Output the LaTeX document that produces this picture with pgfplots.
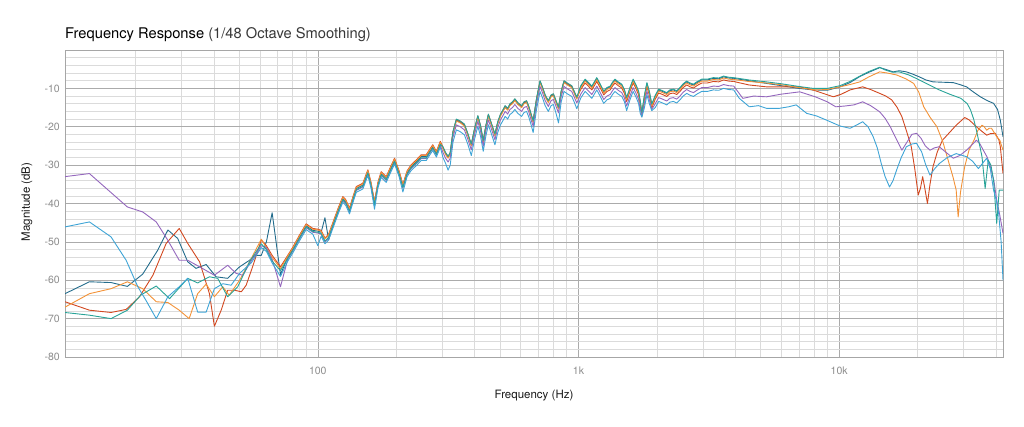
\documentclass[border=0pt]{standalone}
\usepackage{fontspec}
\setmainfont{TeX Gyre Heros}
\usepackage{pgfplots}
\usepackage{pgfplotstable}
\pgfplotsset{compat=1.18}
\definecolor{cdb}{RGB}{35,108,140}
\definecolor{cte}{RGB}{40,163,152}
\definecolor{cor}{RGB}{243,146,55}
\definecolor{cre}{RGB}{210,72,32}
\definecolor{cpu}{RGB}{148,103,189}
\definecolor{clb}{RGB}{62,164,214}
\pgfplotstableread{
f db te or re pu lb
76.7 -54 -54.3 -53.7 -53.5 -54.5 -55
80 -52 -52.3 -51.7 -51.5 -52.5 -53
85.1 -48.7 -49 -48.4 -48.2 -49.2 -49.7
90.2 -45.8 -46.1 -45.5 -45.3 -46.3 -46.8
95.7 -47 -47.3 -46.7 -46.5 -47.5 -48
100 -47.2 -47.5 -46.9 -46.7 -47.7 -51
103 -47.5 -47.8 -47.2 -47 -48 -48.5
106.5 -43.7 -49.8 -49.2 -49 -50 -50.5
110 -49.5 -48.8 -48.2 -48 -49 -49.5
115.9 -44.3 -44.6 -44 -43.8 -44.8 -45.3
120 -41.5 -41.8 -41.2 -41 -42 -42.5
124.7 -38.7 -39 -38.4 -38.2 -39.2 -39.7
128 -39.5 -39.8 -39.2 -39 -40 -40.5
132.3 -41.7 -42 -41.4 -41.2 -42.2 -42.7
136 -39 -39.3 -38.7 -38.5 -39.5 -40
140.4 -36.1 -36.4 -35.8 -35.6 -36.6 -37.1
148.9 -35.2 -35.5 -34.9 -34.7 -35.7 -36.2
155.6 -31.7 -32 -31.4 -31.2 -32.2 -32.7
160 -35 -35.3 -34.7 -34.5 -35.5 -36
165 -40 -40.3 -39.7 -39.5 -40.5 -41.5
170 -35 -35.3 -34.7 -34.5 -35.5 -36
175 -32.2 -32.5 -31.9 -31.7 -32.7 -33.2
183 -33.5 -33.8 -33.2 -33 -34 -34.5
190 -31 -31.3 -30.7 -30.5 -31.5 -32
197 -28.7 -29 -28.4 -28.2 -29.2 -29.7
205 -32 -32.3 -31.7 -31.5 -32.5 -33
212 -35.5 -35.8 -35.2 -35 -36 -37
220 -32 -32.3 -31.7 -31.5 -32.5 -33
228 -30.4 -30.7 -30.1 -29.9 -30.9 -31.4
239 -29.1 -29.4 -28.8 -28.6 -29.6 -30.1
249 -27.8 -28.1 -27.5 -27.3 -28.3 -28.8
260.5 -27.8 -28.1 -27.5 -27.3 -28.3 -28.8
268 -26.5 -26.8 -26.2 -26 -27 -27.5
276 -25.2 -25.5 -24.9 -24.7 -25.7 -26.2
285 -26.9 -27.2 -26.6 -26.4 -27.4 -27.9
295 -24.3 -24.6 -24 -23.8 -24.8 -25.3
302 -25.5 -25.2 -25.7 -25.3 -26.7 -28
309 -27 -26.7 -27.2 -26.8 -28.2 -29.5
316 -28 -27.7 -28.2 -27.8 -29.2 -31.3
322 -27 -26.7 -27.2 -26.8 -28.2 -30
330 -21.5 -21.2 -21.7 -21.3 -22.7 -24
340 -18.3 -18 -18.5 -18.1 -19.5 -20.8
352 -18.8 -18.5 -19 -18.6 -20 -21.3
365 -19.6 -19.3 -19.8 -19.4 -20.8 -22.1
376 -22 -21.7 -22.2 -21.8 -23.2 -24.5
388 -24.8 -24.5 -25 -24.6 -26 -27.5
400 -20.5 -20.2 -20.7 -20.3 -21.7 -23
411 -17.4 -17.1 -17.6 -17.2 -18.6 -19.9
421 -20 -19.7 -20.2 -19.8 -21.2 -22.5
431 -23.9 -23.6 -24.1 -23.7 -25.1 -26.4
441 -20 -19.7 -20.2 -19.8 -21.2 -22.5
451 -17 -16.7 -17.2 -16.8 -18.2 -19.5
464 -19.5 -19.2 -19.7 -19.3 -20.7 -22
478 -22.2 -21.9 -22.4 -22 -23.4 -24.7
490 -19 -18.7 -19.2 -18.8 -20.2 -21.5
502 -17 -16.7 -17.2 -16.8 -18.2 -19.5
512 -16 -15.7 -16.2 -15.8 -17.2 -18.5
523 -14.8 -14.5 -15 -14.6 -16 -17.3
535 -15.5 -15.2 -15.7 -15.3 -16.7 -18
546 -14.3 -14 -14.5 -14.1 -15.5 -16.8
558 -13.8 -13.5 -14 -13.6 -15 -16.3
570 -13 -12.7 -13.2 -12.8 -14.2 -15.5
585 -14 -13.7 -14.2 -13.8 -15.2 -16.5
605 -14.8 -14.5 -15 -14.6 -16 -17.3
618 -13.8 -13.5 -14 -13.6 -15 -16.3
632 -13.5 -13.2 -13.7 -13.3 -14.7 -16
645 -15 -14.7 -15.2 -14.8 -16.2 -17.5
658 -17 -16.7 -17.2 -16.8 -18.2 -19.5
670 -18.7 -18.4 -18.9 -18.5 -19.9 -21.5
690 -13 -12.7 -13.2 -12.8 -14.2 -15.5
712 -8.3 -8 -8.5 -8.1 -9.5 -10.8
728 -10 -9.7 -10.2 -9.8 -11.2 -12.5
745 -12 -11.7 -12.2 -11.8 -13.2 -14.5
766 -13.5 -13.2 -13.7 -13.3 -14.7 -16
785 -12 -11.7 -12.2 -11.8 -13.2 -14.5
801 -11.7 -11.4 -11.9 -11.5 -12.9 -14.2
820 -13.5 -13.2 -13.7 -13.3 -14.7 -16.5
838 -15.2 -14.9 -15.4 -15 -16.4 -19
858 -11 -10.7 -11.2 -10.8 -12.2 -13.5
880 -8.3 -8 -8.5 -8.1 -9.5 -10.8
910 -9 -8.7 -9.2 -8.8 -10.2 -11.5
942 -9.6 -9.3 -9.8 -9.4 -10.8 -12.1
962 -11 -10.7 -11.2 -10.8 -12.2 -13.5
985 -12.6 -12.3 -12.8 -12.4 -13.8 -15.3
1020 -9.5 -9.3 -9.8 -10.3 -11.5 -12.5
1060 -7.8 -7.6 -8.1 -8.6 -9.8 -10.8
1090 -8.6 -8.4 -8.9 -9.4 -10.6 -11.6
1125 -9.6 -9.4 -9.9 -10.4 -11.6 -12.6
1150 -8.5 -8.3 -8.8 -9.3 -10.5 -11.5
1175 -7.4 -7.2 -7.7 -8.2 -9.4 -10.4
1210 -9 -8.8 -9.3 -9.8 -11 -12
1250 -10.9 -10.7 -11.2 -11.7 -12.9 -13.9
1285 -10 -9.8 -10.3 -10.8 -12 -13
1323 -9.6 -9.4 -9.9 -10.4 -11.6 -12.6
1350 -8.6 -8.4 -8.9 -9.4 -10.6 -11.6
1380 -7.8 -7.6 -8.1 -8.6 -9.8 -10.8
1420 -8.5 -8.3 -8.8 -9.3 -10.5 -11.5
1465 -9.1 -8.9 -9.4 -9.9 -11.1 -12.1
1500 -10.5 -10.3 -10.8 -11.3 -12.5 -13.5
1530 -12.6 -12.4 -12.9 -13.4 -14.6 -15.8
1575 -10 -9.8 -10.3 -10.8 -12 -13
1620 -7.8 -7.6 -8.1 -8.6 -9.8 -10.8
1660 -9.2 -9 -9.5 -10 -11.2 -12.2
1700 -10.9 -10.7 -11.2 -11.7 -12.9 -13.9
1725 -13.5 -13.3 -13.8 -14.3 -15.5 -16.5
1750 -16.5 -16.3 -16.8 -17.3 -17 -17.5
1790 -12 -11.8 -12.3 -12.8 -14 -15
1830 -8.7 -8.5 -9 -9.5 -10.7 -11.7
1870 -11 -10.8 -11.3 -11.8 -13 -14
1910 -14.3 -14.1 -14.6 -15.1 -15.5 -15.8
1970 -12 -11.8 -12.3 -12.8 -14 -15
2030 -10.4 -10.2 -10.7 -11.2 -12.4 -13.4
2100 -10.8 -10.6 -11.1 -11.6 -12.8 -13.8
2180 -11.3 -11.1 -11.6 -12.1 -13.3 -14.3
2240 -10.6 -10.4 -10.9 -11.4 -12.6 -13.6
2310 -10.4 -10.2 -10.7 -11.2 -12.4 -13.4
2380 -10.8 -10.6 -11.1 -11.6 -12.8 -13.8
2450 -10 -9.8 -10.3 -10.8 -12 -13
2520 -9 -8.8 -9.3 -9.8 -11 -12
2600 -8.3 -8.1 -8.6 -9.1 -10.3 -11.3
2680 -8.8 -8.6 -9.1 -9.6 -10.8 -11.8
2760 -9.1 -8.9 -9.4 -9.9 -11.1 -12.1
2860 -8.4 -8.2 -8.7 -9.2 -10.4 -11.4
2970 -7.8 -7.6 -8.1 -8.6 -9.8 -10.8
3120 -7.8 -7.6 -8.1 -8.6 -9.8 -10.8
3290 -7.4 -7.2 -7.7 -8.2 -9.4 -10.4
3450 -7.5 -7.3 -7.8 -8.3 -9.5 -10.5
3600 -7 -6.8 -7.3 -7.8 -9 -10
3770 -7.3 -7.1 -7.6 -8.1 -9.3 -10.3
3940 -7.4 -7.2 -7.7 -8.2 -9.4 -10.4
}\middata
\begin{document}
\begin{tikzpicture}
\useasboundingbox (0,0) rectangle (1024bp,427bp);
\node[anchor=base west, inner sep=0pt] at (65bp,388bp) {\fontsize{14.7bp}{17bp}\selectfont Frequency Response \textcolor{black!78}{(1/48 Octave Smoothing)}};
\begin{axis}[
  at={(65bp,70bp)}, anchor=south west,
  scale only axis, width=938bp, height=307bp,
  xmode=log, xmin=10.72, xmax=42500, ymin=-80, ymax=0,
  axis line style={draw=black!35, line width=0.6bp},
  xtick={100,1000,10000}, xticklabels={100,1k,10k},
  minor xtick={20,30,40,50,60,70,80,90,200,300,400,500,600,700,800,900,2000,3000,4000,5000,6000,7000,8000,9000,20000,30000,40000},
  ytick={-80,-70,-60,-50,-40,-30,-20,-10},
  yticklabels={-80,-70,-60,-50,-40,-30,-20,-10},
  minor ytick={-78,-76,-74,-72,-68,-66,-64,-62,-58,-56,-54,-52,-48,-46,-44,-42,-38,-36,-34,-32,-28,-26,-24,-22,-18,-16,-14,-12,-8,-6,-4,-2},
  major tick length=0pt, minor tick length=0pt,
  grid=both,
  major grid style={draw=black!33, line width=0.6bp},
  minor grid style={draw=black!14, line width=0.6bp},
  tick label style={font=\fontsize{10.5bp}{12bp}\selectfont, text=black!45},
  xticklabel style={inner sep=0pt, anchor=north, yshift=-9.5bp},
  yticklabel style={inner sep=0pt, anchor=east, xshift=-5bp},
  label style={font=\fontsize{11.5bp}{13bp}\selectfont, text=black!90},
  xlabel={Frequency (Hz)},
  xlabel style={at={(axis description cs:0.5,-0.124)}, anchor=center},
  ylabel={Magnitude (dB)},
  ylabel style={at={(axis description cs:-0.0405,0.505)}, anchor=center},
  every axis plot/.append style={line width=0.9bp, no markers, line join=round},
]
% dark blue
\addplot[cdb] coordinates {(10.72,-63.5)(13.3,-60.4)(16.1,-60.6)(18.6,-61.6)(21.3,-58.4)(24.3,-52.2)(26.6,-46.9)(29.0,-49.1)(31.7,-55.2)(34.1,-56.9)(37.3,-55.9)(40.7,-59.1)(45.1,-59.5)(50.1,-56.5)(54.7,-54.8)(57.5,-53.5)(60.7,-53.5)(63.5,-50)(66.8,-42.4)(71.9,-58.5)(76.7,-54)};
\addplot[cdb] table[x=f,y=db]{\middata};
\addplot[cdb] coordinates {(3940,-7.4)(4500,-8)(5260,-8.7)(6000,-9.3)(7000,-10)(7940,-10.4)(9000,-10.5)(10070,-9.6)(11000,-8.5)(12000,-6.9)(13000,-5.8)(14300,-4.6)(15000,-5)(16100,-5.7)(17000,-5.4)(18100,-5.7)(19000,-6.2)(20300,-7)(21500,-7.8)(22900,-8.3)(25000,-8.4)(27400,-8.5)(29000,-9)(30800,-9.6)(32500,-10.8)(34800,-12.2)(37000,-13.2)(39100,-13.9)(40500,-15.5)(41500,-18.3)(42500,-22.6)};
% red
\addplot[cre] coordinates {(10.72,-65.6)(13.3,-67.8)(16.1,-68.4)(18.4,-67.6)(20.7,-64.3)(23.3,-58.7)(26.2,-50.4)(29.4,-46.5)(31.7,-50.4)(35.2,-55.2)(38.4,-63.5)(40.1,-72)(42.6,-67.8)(45.1,-62.6)(47.9,-62.6)(50.9,-63)(53.1,-61.3)(56.2,-56.5)(60.7,-49.5)(63.5,-51)(66.8,-53.5)(71.9,-56.5)(76.7,-53.5)};
\addplot[cre] table[x=f,y=re]{\middata};
\addplot[cre] coordinates {(3940,-8.2)(4500,-9.1)(5260,-9.6)(6000,-9.6)(7060,-9.6)(8000,-10.5)(9500,-12.2)(10200,-11.5)(11000,-10.4)(12300,-9.6)(13200,-10.3)(14300,-11.3)(15100,-12)(15900,-13)(16700,-15)(17400,-17.4)(18100,-21)(18900,-25.2)(19500,-31)(20100,-37.8)(20500,-36)(20900,-33)(21300,-36)(21800,-40)(22300,-35)(22900,-30.4)(23800,-26.5)(24900,-23.5)(26500,-21.5)(28100,-19.6)(30300,-17.6)(31500,-18.2)(33600,-20)(35000,-21)(36800,-22.2)(38000,-21.8)(39700,-21.7)(41000,-23.5)(41500,-25.2)(42500,-32.2)};
% orange
\addplot[cor] coordinates {(10.72,-67)(13.3,-63.5)(16.1,-62.2)(18.6,-60.4)(21.3,-62.2)(24,-65.6)(26.6,-65.8)(29.4,-67.8)(32.1,-70)(34.6,-63.5)(37.3,-61)(40.1,-64.3)(43.2,-61.7)(45.7,-63.9)(50.1,-60)(54.7,-55.2)(60.7,-49.3)(63.5,-51.5)(66.8,-54)(71.9,-57)(76.7,-53.7)};
\addplot[cor] table[x=f,y=or]{\middata};
\addplot[cor] coordinates {(3940,-7.7)(4500,-8.2)(5260,-8.6)(6080,-9.1)(7000,-9.8)(8100,-10.4)(9000,-10.3)(10070,-9.6)(11000,-9)(12000,-8.3)(13000,-7)(14300,-5.7)(15300,-6)(16600,-6.5)(18000,-7.5)(19300,-8.7)(20200,-11)(21100,-14.8)(22300,-17.5)(23700,-20)(25000,-24)(26400,-29.6)(27300,-33)(28100,-36.5)(28600,-43.5)(29200,-37)(30300,-30.4)(31500,-26)(32900,-23.5)(34000,-21)(35300,-19.6)(36000,-20)(36800,-20.9)(37600,-20.4)(38400,-20.4)(39300,-21.5)(40200,-22.6)(41300,-23.5)(42500,-26.1)};
% purple
\addplot[cpu] coordinates {(10.72,-33)(13.3,-32.2)(18.6,-40.9)(21.3,-42.2)(24,-44.8)(26.6,-49.6)(29.4,-54.8)(31.7,-54.8)(35.2,-56.5)(40.1,-58.7)(45.1,-56.1)(48.6,-58.2)(51.5,-58.7)(55.5,-55)(60.7,-51)(63.5,-51.5)(66.8,-54.5)(71.9,-61.7)(76.7,-54.5)};
\addplot[cpu] table[x=f,y=pu]{\middata};
\addplot[cpu] coordinates {(3940,-9.4)(4270,-12.6)(4700,-12)(5260,-12.2)(6000,-11.5)(7060,-10.9)(8100,-12.2)(9000,-13.5)(9700,-14.8)(10500,-14.6)(11400,-14.3)(12300,-13.5)(13200,-14.5)(14300,-16.1)(15000,-17.8)(15700,-20)(16500,-23)(17400,-26.1)(18200,-24)(19000,-22)(19800,-21.7)(20600,-23)(21400,-25)(22300,-26.1)(23200,-25.5)(24200,-25.2)(25500,-26.5)(27400,-28.2)(29000,-27.5)(30800,-26.1)(32000,-25)(33600,-23.5)(34700,-24.5)(35700,-26.1)(37000,-28)(38000,-30.4)(39200,-34)(40200,-39.1)(41300,-43)(42500,-47.8)};
% teal
\addplot[cte] coordinates {(10.72,-68.4)(13.3,-69.1)(16.1,-70)(18.6,-67.8)(20.9,-63.9)(24,-61.5)(27,-64.8)(31.7,-59.5)(34.6,-60.7)(38.4,-59.1)(41.3,-59.5)(45.1,-64.3)(49.3,-61.7)(54.7,-55.2)(60.7,-50.5)(63.5,-52)(66.8,-55)(71.9,-57.5)(76.7,-54.3)};
\addplot[cte] table[x=f,y=te]{\middata};
\addplot[cte] coordinates {(3940,-7.2)(4500,-7.8)(5260,-8.3)(6000,-8.8)(7000,-9.5)(7940,-10)(9000,-10)(10070,-9.3)(11000,-8.2)(12000,-6.8)(13000,-5.6)(14300,-4.5)(15000,-5.2)(16000,-5.8)(17000,-5.7)(18500,-6.5)(20300,-7.8)(22000,-9)(24200,-10.4)(26500,-11.5)(29300,-12.6)(31000,-14)(31900,-15.6)(32800,-18)(33600,-20.9)(34500,-24.5)(35300,-27.8)(36300,-36.1)(37300,-28.7)(38200,-30)(39100,-33.9)(40200,-45.2)(41100,-36.5)(42500,-36.5)};
% light blue
\addplot[clb] coordinates {(10.72,-46.1)(13.3,-44.8)(16.1,-48.7)(18.4,-54.8)(20.4,-61.7)(21.9,-65.2)(24,-70)(26.6,-64.3)(29.4,-61.7)(31.7,-59.5)(34.6,-68.3)(37.3,-68.3)(40.1,-62.2)(43.2,-60.9)(46.5,-61.3)(50.1,-58.2)(55.5,-55.5)(60.7,-51.5)(63.5,-52.5)(66.8,-55.5)(71.9,-59)(76.7,-55)};
\addplot[clb] table[x=f,y=lb]{\middata};
\addplot[clb] coordinates {(3940,-10.4)(4140,-12.6)(4520,-14.8)(4900,-14.5)(5260,-15.2)(5900,-15.2)(6400,-14.8)(6840,-14.3)(7500,-16.5)(8200,-17.2)(8960,-18.3)(10070,-19.8)(11000,-20.4)(11700,-19.5)(12300,-18.7)(12900,-20)(13500,-22.6)(14000,-25.5)(14500,-29.6)(15000,-33)(15600,-35.7)(16100,-34)(16600,-31.3)(17300,-28)(18100,-25.2)(19000,-24.5)(19800,-24.3)(20700,-26.5)(21500,-30)(22300,-32.6)(23200,-31)(24200,-29.6)(26000,-28)(28100,-27)(30800,-27.8)(32500,-29)(34200,-30.9)(35500,-29.5)(36800,-28.2)(38000,-31)(39100,-36.5)(40000,-39)(40900,-42.6)(41800,-50)(42500,-60)};
\end{axis}
\end{tikzpicture}
\end{document}
